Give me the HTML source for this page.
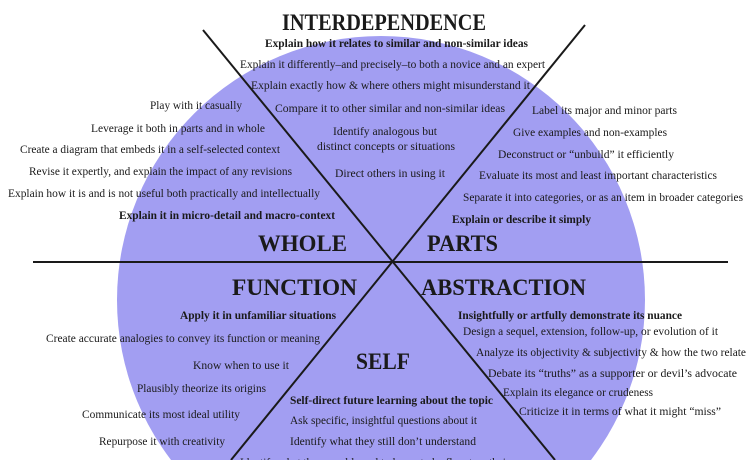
<!DOCTYPE html>
<html><head><meta charset="utf-8"><style>
html,body{margin:0;padding:0;background:#fff;width:750px;height:460px;overflow:hidden;}
svg{display:block;}
text{font-family:"Liberation Serif",serif;fill:#1a1a1a;}
.b{font-weight:bold;}
.t{font-weight:bold;font-size:23px;}
</style></head><body>
<svg width="750" height="460" viewBox="0 0 750 460" xmlns="http://www.w3.org/2000/svg">
<rect width="750" height="460" fill="#fff"/>
<circle cx="381" cy="300" r="264" fill="#a29ef2"/>
<g stroke="#1a1a1a" stroke-width="2">
<line x1="33" y1="262" x2="728" y2="262"/>
<line x1="203" y1="30" x2="555" y2="460"/>
<line x1="585" y1="25" x2="231" y2="460"/>
</g>
<g font-size="12">
<text class="t" x="282" y="30" textLength="204" lengthAdjust="spacingAndGlyphs">INTERDEPENDENCE</text>
<text class="b" x="265" y="47" textLength="263" lengthAdjust="spacingAndGlyphs">Explain how it relates to similar and non-similar ideas</text>
<text x="240" y="68" textLength="305" lengthAdjust="spacingAndGlyphs">Explain it differently–and precisely–to both a novice and an expert</text>
<text x="251" y="89" textLength="279" lengthAdjust="spacingAndGlyphs">Explain exactly how &amp; where others might misunderstand it</text>
<text x="275" y="112" textLength="230" lengthAdjust="spacingAndGlyphs">Compare it to other similar and non-similar ideas</text>
<text x="333" y="135" textLength="104" lengthAdjust="spacingAndGlyphs">Identify analogous but</text>
<text x="317" y="150" textLength="138" lengthAdjust="spacingAndGlyphs">distinct concepts or situations</text>
<text x="335" y="177" textLength="110" lengthAdjust="spacingAndGlyphs">Direct others in using it</text>

<text x="150" y="109" textLength="92" lengthAdjust="spacingAndGlyphs">Play with it casually</text>
<text x="91" y="132" textLength="174" lengthAdjust="spacingAndGlyphs">Leverage it both in parts and in whole</text>
<text x="20" y="153" textLength="260" lengthAdjust="spacingAndGlyphs">Create a diagram that embeds it in a self-selected context</text>
<text x="29" y="175" textLength="263" lengthAdjust="spacingAndGlyphs">Revise it expertly, and explain the impact of any revisions</text>
<text x="8" y="197" textLength="312" lengthAdjust="spacingAndGlyphs">Explain how it is and is not useful both practically and intellectually</text>
<text class="b" x="119" y="219" textLength="216" lengthAdjust="spacingAndGlyphs">Explain it in micro-detail and macro-context</text>

<text x="532" y="114" textLength="145" lengthAdjust="spacingAndGlyphs">Label its major and minor parts</text>
<text x="513" y="136" textLength="154" lengthAdjust="spacingAndGlyphs">Give examples and non-examples</text>
<text x="498" y="158" textLength="176" lengthAdjust="spacingAndGlyphs">Deconstruct or “unbuild” it efficiently</text>
<text x="479" y="179" textLength="238" lengthAdjust="spacingAndGlyphs">Evaluate its most and least important characteristics</text>
<text x="463" y="201" textLength="280" lengthAdjust="spacingAndGlyphs">Separate it into categories, or as an item in broader categories</text>
<text class="b" x="452" y="223" textLength="139" lengthAdjust="spacingAndGlyphs">Explain or describe it simply</text>

<text class="t" x="258" y="251" textLength="89" lengthAdjust="spacingAndGlyphs">WHOLE</text>
<text class="t" x="427" y="251" textLength="71" lengthAdjust="spacingAndGlyphs">PARTS</text>
<text class="t" x="232" y="295" textLength="125" lengthAdjust="spacingAndGlyphs">FUNCTION</text>
<text class="t" x="421" y="295" textLength="165" lengthAdjust="spacingAndGlyphs">ABSTRACTION</text>
<text class="t" x="356" y="369" font-size="27" textLength="54" lengthAdjust="spacingAndGlyphs">SELF</text>

<text class="b" x="180" y="319" textLength="156" lengthAdjust="spacingAndGlyphs">Apply it in unfamiliar situations</text>
<text x="46" y="342" textLength="274" lengthAdjust="spacingAndGlyphs">Create accurate analogies to convey its function or meaning</text>
<text x="193" y="369" textLength="96" lengthAdjust="spacingAndGlyphs">Know when to use it</text>
<text x="137" y="392" textLength="129" lengthAdjust="spacingAndGlyphs">Plausibly theorize its origins</text>
<text x="82" y="418" textLength="158" lengthAdjust="spacingAndGlyphs">Communicate its most ideal utility</text>
<text x="99" y="445" textLength="126" lengthAdjust="spacingAndGlyphs">Repurpose it with creativity</text>

<text class="b" x="458" y="319" textLength="224" lengthAdjust="spacingAndGlyphs">Insightfully or artfully demonstrate its nuance</text>
<text x="463" y="335" textLength="255" lengthAdjust="spacingAndGlyphs">Design a sequel, extension, follow-up, or evolution of it</text>
<text x="476" y="356" textLength="270" lengthAdjust="spacingAndGlyphs">Analyze its objectivity &amp; subjectivity &amp; how the two relate</text>
<text x="488" y="377" textLength="249" lengthAdjust="spacingAndGlyphs">Debate its “truths” as a supporter or devil’s advocate</text>
<text x="503" y="396" textLength="150" lengthAdjust="spacingAndGlyphs">Explain its elegance or crudeness</text>
<text x="519" y="415" textLength="202" lengthAdjust="spacingAndGlyphs">Criticize it in terms of what it might “miss”</text>

<text class="b" x="290" y="404" textLength="203" lengthAdjust="spacingAndGlyphs">Self-direct future learning about the topic</text>
<text x="290" y="424" textLength="187" lengthAdjust="spacingAndGlyphs">Ask specific, insightful questions about it</text>
<text x="290" y="445" textLength="186" lengthAdjust="spacingAndGlyphs">Identify what they still don’t understand</text>
<text x="240" y="466" textLength="292" lengthAdjust="spacingAndGlyphs">Identify what they would need to know to be fluent on their own</text>
</g>
</svg>
</body></html>
